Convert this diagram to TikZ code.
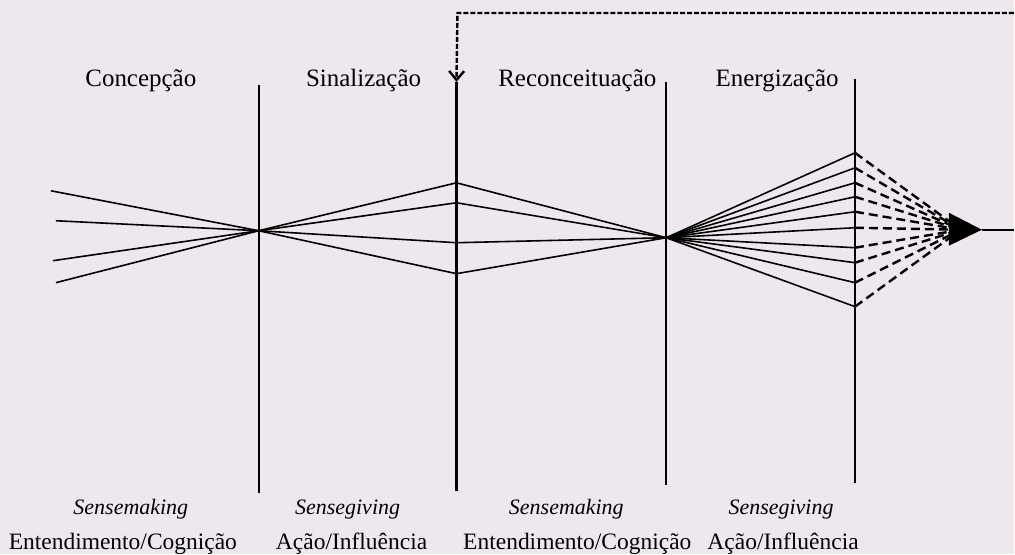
\documentclass[tikz,border=0pt]{standalone}
\usepackage{fontspec}
\setmainfont{Liberation Serif}
\usetikzlibrary{arrows.meta}
\definecolor{bgc}{RGB}{238,232,238}
\begin{document}
\begin{tikzpicture}[x=1pt,y=-1pt,
  vline/.style={line width=2.2pt},
  fan/.style={line width=1.6pt},
  dfan/.style={line width=2.4pt, dash pattern=on 9pt off 5pt},
  fback/.style={line width=2.4pt, dash pattern=on 5pt off 2pt},
  tlbl/.style={font=\fontsize{25}{27}\selectfont, inner sep=0pt, anchor=base},
  lbl/.style={font=\fontsize{23.5}{25}\selectfont, inner sep=0pt, anchor=base},
  ilbl/.style={font=\fontsize{22}{24}\selectfont\itshape, inner sep=0pt, anchor=base}]
\fill[bgc] (0,0) rectangle (1015,555);
% vertical lines
\coordinate (v1t) at (259,85);  \coordinate (v1b) at (259,494);
\coordinate (v2t) at (457,82);  \coordinate (v2b) at (457,492);
\coordinate (v3t) at (667,82);  \coordinate (v3b) at (667,486);
\coordinate (v4t) at (856,79);  \coordinate (v4b) at (856,484);
\draw[vline] (v1t) -- (v1b);
\draw[vline] (v2t) -- (v2b);
\draw[vline] (v3t) -- (v3b);
\draw[vline] (v4t) -- (v4b);
% convergence points
\coordinate (c1) at (259,231);
\coordinate (c2) at (667,238);
\coordinate (aim) at (962,230);
\coordinate (tip) at (983,230);
\coordinate (out) at (1015,230);
% left fan
\foreach \x/\y [count=\i] in {51/191,56/221,53/261,56/283} {
  \coordinate (l\i) at (\x,\y);
  \draw[fan] (l\i) -- (c1);
}
% middle fans
\foreach \y [count=\i] in {183,203,243,274} {
  \coordinate (m\i) at (457,\y);
  \draw[fan] (c1) -- (m\i) -- (c2);
}
% right fan
\foreach \y [count=\i] in {153,168,183,197,212,228,248,263,283,307} {
  \coordinate (r\i) at (856,\y);
  \draw[fan] (c2) -- (r\i);
  \draw[dfan] (r\i) -- (aim);
}
\fill (950,213) -- (tip) -- (950,246) -- cycle;
\draw[fan] (tip) -- (out);
% feedback
\coordinate (fa) at (1015,13);
\coordinate (fb) at (458,13);
\coordinate (fc) at (457,82);
\draw[fback, -{Straight Barb[length=9pt,width=15pt,line width=2.4pt]}] (fa) -- (fb) -- (fc);
% top labels
\node[tlbl] (t1) at (141,87) {Concepção};
\node[tlbl] (t2) at (364,87) {Sinalização};
\node[tlbl] (t3) at (578,87) {Reconceituação};
\node[tlbl] (t4) at (778,87) {Energização};
% bottom labels
\node[ilbl] (s1) at (131,515) {Sensemaking};
\node[ilbl] (s2) at (348,515) {Sensegiving};
\node[ilbl] (s3) at (567,515) {Sensemaking};
\node[ilbl] (s4) at (782,515) {Sensegiving};
\node[lbl] (b1) at (123,550) {Entendimento/Cognição};
\node[lbl] (b2) at (352,550) {Ação/Influência};
\node[lbl] (b3) at (578,550) {Entendimento/Cognição};
\node[lbl] (b4) at (784,550) {Ação/Influência};
\end{tikzpicture}
\end{document}
